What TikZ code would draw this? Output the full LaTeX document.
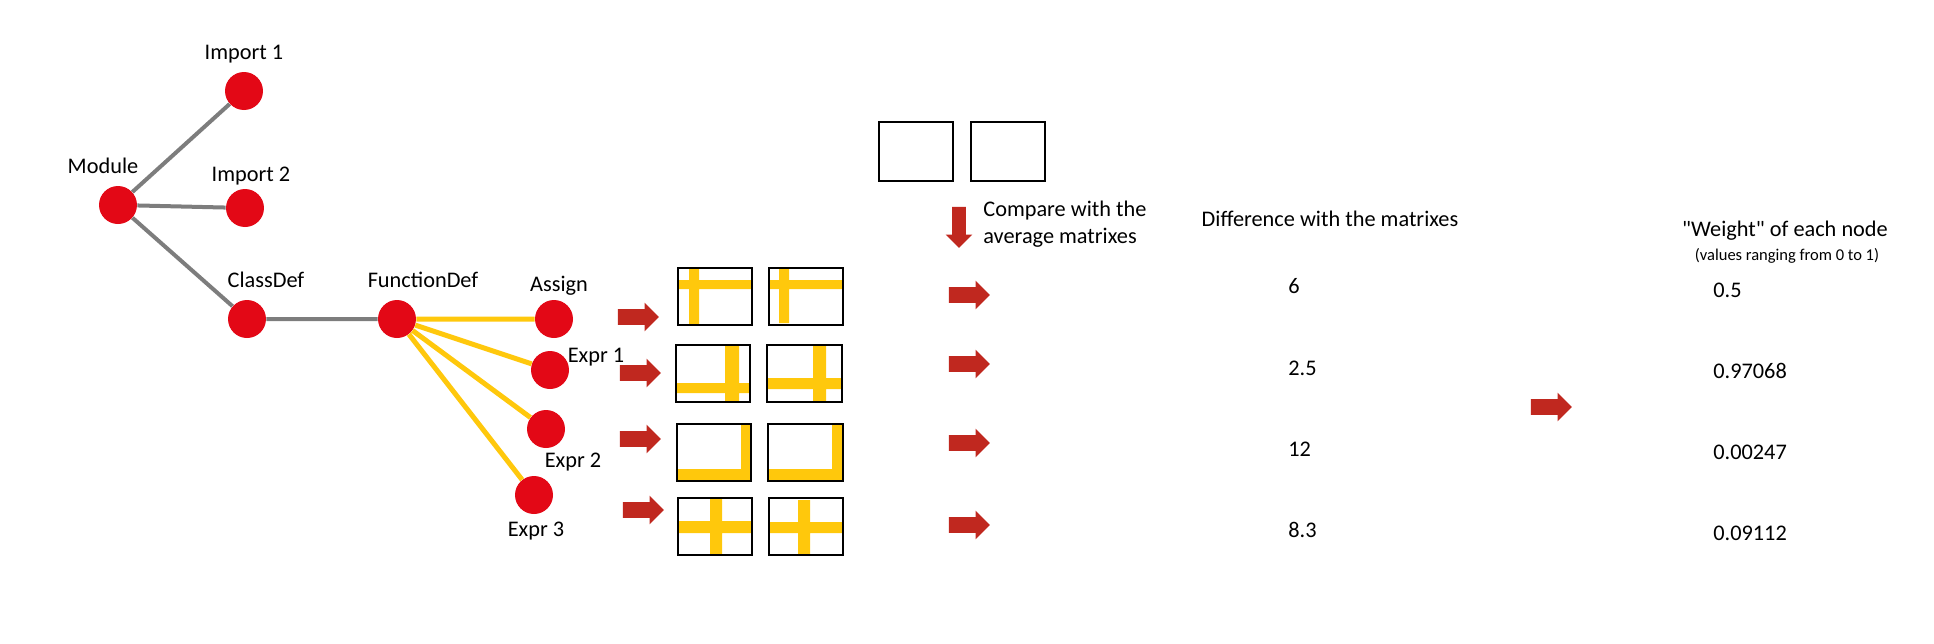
\documentclass[tikz,border=0pt]{standalone}
\usepackage{fontspec}
\setmainfont{Carlito}
\newfontfamily\plainq{Carlito}[Ligatures=TeXOff]
\usetikzlibrary{shapes.arrows}
\definecolor{nodered}{RGB}{227,8,22}
\definecolor{arrowred}{RGB}{192,40,31}
\definecolor{baryellow}{RGB}{255,200,12}
\definecolor{edgegray}{RGB}{125,125,125}
\begin{document}
\begin{tikzpicture}[x=0.02cm,y=-0.02cm,
    ast/.style={shape=circle,fill=nodered,inner sep=0pt,minimum size=0.76cm},
    lbl/.style={anchor=base,inner sep=0pt,font=\fontsize{12.7}{15.4}\selectfont},
    txt/.style={anchor=base west,inner sep=0pt,font=\fontsize{12.7}{15.4}\selectfont},
    gedge/.style={draw=edgegray,line width=0.08cm},
    yedge/.style={draw=baryellow,line width=0.1cm},
    blk/.style={shape=single arrow,fill=arrowred,inner xsep=0pt,inner ysep=0.15cm,minimum height=0.82cm,single arrow head extend=0.13cm},
    mat/.style={draw,line width=0.026cm},
    bar/.style={fill=baryellow}]
\useasboundingbox (0,0) rectangle (1934,643);
% tree
      \node[ast] (mod) at (118,205) {};
      \node[ast] (imp1) at (244,91) {};
      \node[ast] (imp2) at (245,208) {};
      \node[ast] (cls) at (247,319) {};
      \node[ast] (fun) at (397,319) {};
      \node[ast] (asg) at (554,319) {};
      \node[ast] (ex1) at (550,370) {};
      \node[ast] (ex2) at (546,429) {};
      \node[ast] (ex3) at (534,495) {};
      \draw[gedge] (mod)--(imp1) (mod)--(imp2) (mod)--(cls) (cls)--(fun);
      \draw[yedge] (fun)--(asg) (fun)--(ex1) (fun)--(ex2) (fun)--(ex3);
      \node[lbl] (lmod) at (103,173) {Module};
      \node[lbl] (limp1) at (244,59) {Import 1};
      \node[lbl] (limp2) at (251,181) {Import 2};
      \node[lbl] (lcls) at (266,287) {ClassDef};
      \node[lbl] (lfun) at (423,287) {FunctionDef};
      \node[lbl] (lasg) at (559,291) {Assign};
      \node[lbl] (lex1) at (596,362) {Expr 1};
      \node[lbl] (lex2) at (573,467) {Expr 2};
      \node[lbl] (lex3) at (536,536) {Expr 3};
% arrows to the matrixes
      \node[blk] (a1) at (634.5,317) {};
      \node[blk] (a2) at (636.5,373) {};
      \node[blk] (a3) at (636.5,439) {};
      \node[blk] (a4) at (639.5,510) {};
% matrixes
      \fill[bar] (678,280) rectangle (752,289) (689,268) rectangle (699,325);
      \fill[bar] (769,280) rectangle (843,289) (779,268) rectangle (789,323);
      \fill[bar] (676,383) rectangle (750,393) (725,345) rectangle (739,402);
      \fill[bar] (767,378) rectangle (842,389) (813,345) rectangle (826,402);
      \fill[bar] (677,469) rectangle (751,481) (741,424) rectangle (751,481);
      \fill[bar] (768,469) rectangle (843,480) (832,424) rectangle (843,480);
      \fill[bar] (678,521) rectangle (752,533) (710,498) rectangle (722,555);
      \fill[bar] (769,522) rectangle (843,533) (798,500) rectangle (810,555);
      \draw[mat] (678,268) rectangle (752,325) (769,268) rectangle (843,325);
      \draw[mat] (676,345) rectangle (750,402) (767,345) rectangle (842,402);
      \draw[mat] (677,424) rectangle (751,481) (768,424) rectangle (843,481);
      \draw[mat] (678,498) rectangle (752,555) (769,498) rectangle (843,555);
      \draw[mat] (879,122) rectangle (953,181) (971,122) rectangle (1045,181);
% compare
      \node[blk,shape border rotate=270,inner xsep=0.13cm,inner ysep=0pt] (adown) at (959,224) {};
      \node[txt] (cmp1) at (983,216) {Compare with the};
      \node[txt] (cmp2) at (983,243) {average matrixes};
      \node[blk] (b1) at (965.5,295) {};
      \node[blk] (b2) at (965.5,364) {};
      \node[blk] (b3) at (965.5,443) {};
      \node[blk] (b4) at (965.5,525) {};
      \node[lbl] (diff) at (1330,226) {Difference with the matrixes};
      \node[txt] (d1) at (1288,293) {6};
      \node[txt] (d2) at (1288,375) {2.5};
      \node[txt] (d3) at (1288,456) {12};
      \node[txt] (d4) at (1288,537) {8.3};
% weights
      \node[blk] (c1) at (1547.5,407) {};
      \node[lbl,font=\fontsize{12.7}{15.4}\plainq] (wt) at (1785,236) {"Weight" of each node};
      \node[lbl,font=\fontsize{9.4}{11}\selectfont] (wtsub) at (1787,260) {(values ranging from 0 to 1)};
      \node[txt] (w1) at (1713,297) {0.5};
      \node[txt] (w2) at (1713,378) {0.97068};
      \node[txt] (w3) at (1713,459) {0.00247};
      \node[txt] (w4) at (1713,540) {0.09112};
\end{tikzpicture}
\end{document}
